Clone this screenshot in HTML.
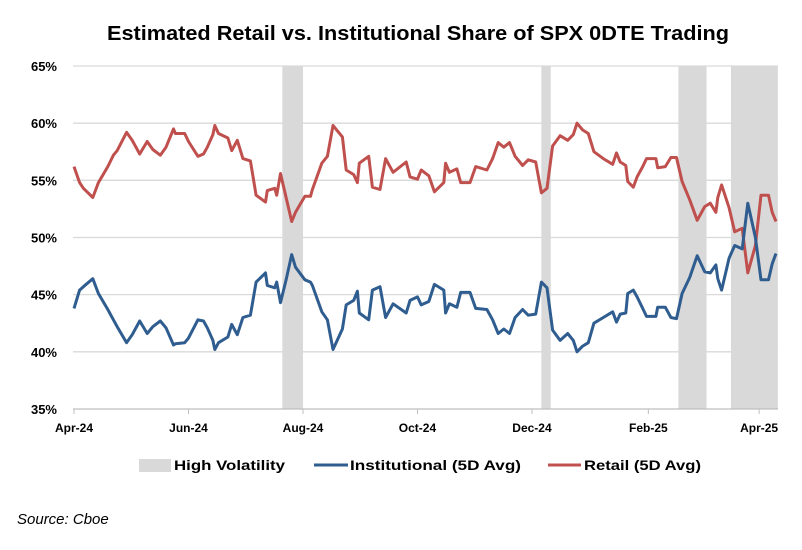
<!DOCTYPE html>
<html><head><meta charset="utf-8"><style>
html,body{margin:0;padding:0;background:#fff;}
svg{display:block;font-family:"Liberation Sans",sans-serif;}
</style></head><body>
<svg id="chart" width="802" height="550" viewBox="0 0 802 550">
<text x="418" y="40" text-anchor="middle" font-size="20" font-weight="bold" textLength="622" lengthAdjust="spacingAndGlyphs" fill="#000">Estimated Retail vs. Institutional Share of SPX 0DTE Trading</text>
<g id="bands"></g>
<g id="grid"></g>
<g id="axes"></g>
<g id="series"></g>
<g>
<rect x="139" y="459" width="32" height="13" fill="#d9d9d9"/>
<text x="174" y="470" font-size="14" font-weight="bold" textLength="111" lengthAdjust="spacingAndGlyphs">High Volatility</text>
<line x1="314" y1="465" x2="348" y2="465" stroke="#2f5d8f" stroke-width="3"/>
<text x="350" y="470" font-size="14" font-weight="bold" textLength="171" lengthAdjust="spacingAndGlyphs">Institutional (5D Avg)</text>
<line x1="548" y1="465" x2="581" y2="465" stroke="#c0504d" stroke-width="3"/>
<text x="584" y="470" font-size="14" font-weight="bold" textLength="117" lengthAdjust="spacingAndGlyphs">Retail (5D Avg)</text>
</g>
<text x="17" y="524" font-size="15" font-style="italic">Source: Cboe</text>
</svg>
<script>
const days=[0,3,5,10,13,18,21,23,28,31,35,39,42,46,49,53,54,59,61,66,69,71,74,75,77,82,84,87,90,94,97,102,103,107,108,110,113,116,118,123,126,127,132,135,138,143,145,149,151,152,157,159,163,166,170,177,179,183,185,189,192,197,198,200,204,206,211,214,220,223,226,229,232,235,239,242,246,249,252,255,259,263,266,268,271,274,277,282,287,289,291,294,295,298,300,303,305,310,311,315,318,321,324,328,332,336,339,342,343,345,349,352,356,359,363,366,370,372,374];
const retail=[56.2,54.8,54.3,53.5,54.8,56.2,57.2,57.6,59.2,58.5,57.3,58.4,57.7,57.2,57.9,59.5,59.1,59.1,58.4,57.1,57.3,57.9,59.0,59.8,59.1,58.7,57.6,58.5,56.9,56.7,53.7,53.1,54.1,54.3,53.7,55.6,53.5,51.4,52.2,53.6,53.6,54.2,56.5,57.1,59.8,58.8,55.9,55.5,54.8,56.5,57.1,54.4,54.2,56.9,55.7,56.6,55.3,55.1,55.9,55.4,54.0,54.8,56.5,55.7,56.0,54.8,54.8,56.2,55.9,56.9,58.3,57.9,58.3,57.1,56.3,56.8,56.6,53.9,54.3,58.0,58.9,58.5,59.0,60.0,59.4,59.1,57.5,56.9,56.4,57.4,56.6,56.3,54.9,54.4,55.3,56.2,56.9,56.9,56.1,56.2,57.0,57.0,54.9,53.3,51.5,52.7,53.0,52.2,53.5,54.6,52.6,50.5,50.8,46.9,49.3,53.7,53.7,52.2,51.4];
const institutional=[43.8,45.4,45.7,46.4,45.1,43.7,42.8,42.2,40.8,41.5,42.7,41.6,42.2,42.7,42.1,40.6,40.7,40.8,41.2,42.8,42.7,42.1,41.0,40.2,40.8,41.3,42.4,41.5,43.0,43.2,46.1,46.9,45.8,45.6,46.1,44.3,46.3,48.5,47.4,46.3,46.1,45.8,43.5,42.8,40.2,42.0,44.1,44.5,45.3,43.4,42.8,45.4,45.7,43.0,44.2,43.4,44.5,44.8,44.1,44.4,45.9,45.4,43.4,44.2,43.9,45.2,45.2,43.8,43.7,42.8,41.6,42.0,41.6,43.0,43.7,43.2,43.3,46.1,45.6,41.9,41.0,41.6,41.0,40.0,40.5,40.8,42.5,43.0,43.5,42.6,43.3,43.4,45.1,45.4,44.8,43.8,43.1,43.1,43.9,43.9,43.0,42.9,45.1,46.5,48.4,47.0,46.9,47.6,46.4,45.4,48.2,49.3,49.0,53.0,50.0,46.3,46.3,47.7,48.6];
const bandStart=[111,249,322,350];
const bandEnd=[122,254,337,375];
const yTicks=[35,40,45,50,55,60,65];
const xTickDays=[0,61,122,183,244,306,365];
const xTickLabels=["Apr-24","Jun-24","Aug-24","Oct-24","Dec-24","Feb-25","Apr-25"];

const NS="http://www.w3.org/2000/svg";
const X0=74,X1=778,PXD=1.877;
const x=d=>X0+d*PXD;
const y=v=>66+(65-v)*11.433;
function mk(tag,attrs,parent){const e=document.createElementNS(NS,tag);for(const k in attrs)e.setAttribute(k,attrs[k]);document.getElementById(parent).appendChild(e);return e;}

bandStart.forEach((s,i)=>{
  const e=mk('rect',{x:x(s),y:y(65),width:Math.min(x(bandEnd[i]),X1)-x(s),height:y(35)-y(65),fill:'#d9d9d9'},'bands');
  
  
});
yTicks.forEach(t=>{
  if(t>35){
    const g=mk('line',{x1:X0-1,x2:X1,y1:y(t),y2:y(t),stroke:'#d9d9d9','stroke-width':1.3},'grid');
    
    
  }
  const l=mk('text',{x:57,y:y(t)+5,'text-anchor':'end','font-size':13,'font-weight':'bold',fill:'#000'},'axes');
  l.textContent=t+'%';
  
  
});
const ax=mk('line',{x1:X0-1,x2:X1,y1:y(35),y2:y(35),stroke:'#bfbfbf','stroke-width':1.3},'axes');


xTickDays.forEach((d,i)=>{
  const tk=mk('line',{x1:x(d),x2:x(d),y1:y(35),y2:y(35)+5,stroke:'#bfbfbf','stroke-width':1},'axes');
  
  
  const t=mk('text',{x:x(d),y:432,'text-anchor':'middle','font-size':12,'font-weight':'bold',fill:'#000'},'axes');
  t.textContent=xTickLabels[i];
  
  
});
function path(vals,color,name){
  const d=vals.map((v,i)=>(i?'L':'M')+x(days[i]).toFixed(1)+' '+y(v).toFixed(1)).join(' ');
  const p=mk('path',{d:d,fill:'none',stroke:color,'stroke-width':3,'stroke-linejoin':'round'},'series');
  
  
}
path(retail,'#c0504d','retail-line');
path(institutional,'#2f5d8f','institutional-line');
</script>
</body></html>
